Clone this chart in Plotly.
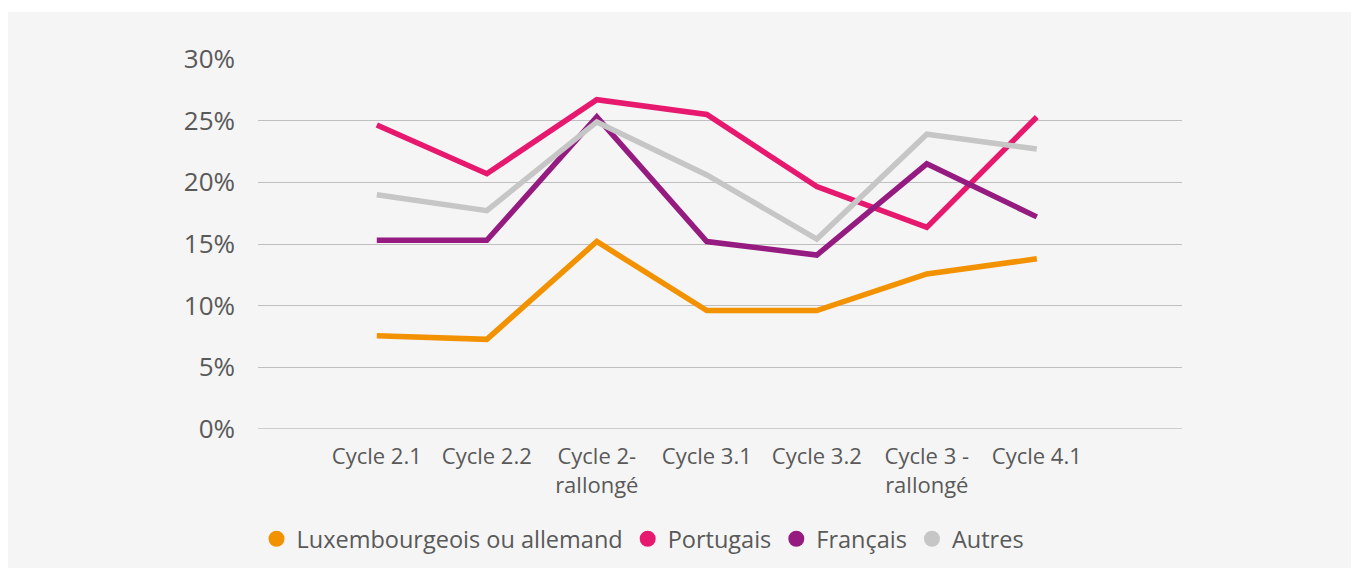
import plotly.graph_objects as go

# --- data ---
cycles = ["Cycle 2.1", "Cycle 2.2", "Cycle 2-<br>rallongé", "Cycle 3.1",
          "Cycle 3.2", "Cycle 3 -<br>rallongé", "Cycle 4.1"]

lux_all = [0.0757, 0.0727, 0.152, 0.096, 0.096, 0.1257, 0.138]
portugais = [0.2465, 0.207, 0.2670, 0.255, 0.1965, 0.1635, 0.253]
francais = [0.153, 0.153, 0.2530, 0.152, 0.141, 0.215, 0.172]
autres = [0.190, 0.177, 0.249, 0.206, 0.154, 0.239, 0.227]

series = [
    ("Luxembourgeois ou allemand", lux_all, "#F39200"),
    ("Portugais", portugais, "#E6196F"),
    ("Français", francais, "#951B81"),
    ("Autres", autres, "#C6C6C6"),
]

FONT = "Open Sans"
TXT = "#595959"

# page body has an 8px margin, so the figure is laid out 8px up/left
L, T, PW, PH = 250, 51, 924, 370
W, H = 1359, 568

fig = go.Figure()

for name, vals, color in series:
    fig.add_trace(go.Scatter(x=cycles, y=vals, mode="lines", name=name,
                             line=dict(color=color, width=5.5),
                             showlegend=False))

# legend entries shown as round markers
for name, vals, color in series:
    fig.add_trace(go.Scatter(x=[None], y=[None], mode="markers", name=name,
                             marker=dict(color=color, size=17, symbol="circle")))

# grey panel behind the chart (white border on top / sides)
fig.add_shape(type="rect", xref="paper", yref="paper",
              x0=(0 - L) / PW, x1=(1344 - L) / PW,
              y0=(T + PH - 600) / PH, y1=(T + PH - 4) / PH,
              fillcolor="#F5F5F5", line=dict(width=0), layer="below")

fig.update_xaxes(type="category", range=[-1.08, 7.32],
                 showgrid=False, zeroline=False, showline=False,
                 tickfont=dict(family=FONT, size=22, color=TXT),
                 ticklabelstandoff=12)
fig.update_yaxes(range=[0, 0.30], dtick=0.05, tickformat=".0%",
                 showgrid=True, gridcolor="#BFBFBF", gridwidth=1.3,
                 zeroline=False, showline=False,
                 tickfont=dict(family=FONT, size=26, color=TXT),
                 ticklabelstandoff=22)

# x-axis baseline at 0%
fig.add_shape(type="line", xref="paper", yref="y", x0=0, x1=1, y0=0, y1=0,
              line=dict(color="#BFBFBF", width=1.3), layer="below")

fig.update_layout(
    width=W, height=H,
    margin=dict(l=L, r=W - L - PW, t=T, b=H - T - PH),
    paper_bgcolor="white",
    plot_bgcolor="rgba(0,0,0,0)",
    font=dict(family=FONT, color=TXT),
    legend=dict(orientation="h", x=(635 - L) / PW, xanchor="center",
                y=(T + PH - 531) / PH, yanchor="middle",
                font=dict(family=FONT, size=23.5, color=TXT),
                bgcolor="rgba(0,0,0,0)"),
)

fig.write_html("out.html")
